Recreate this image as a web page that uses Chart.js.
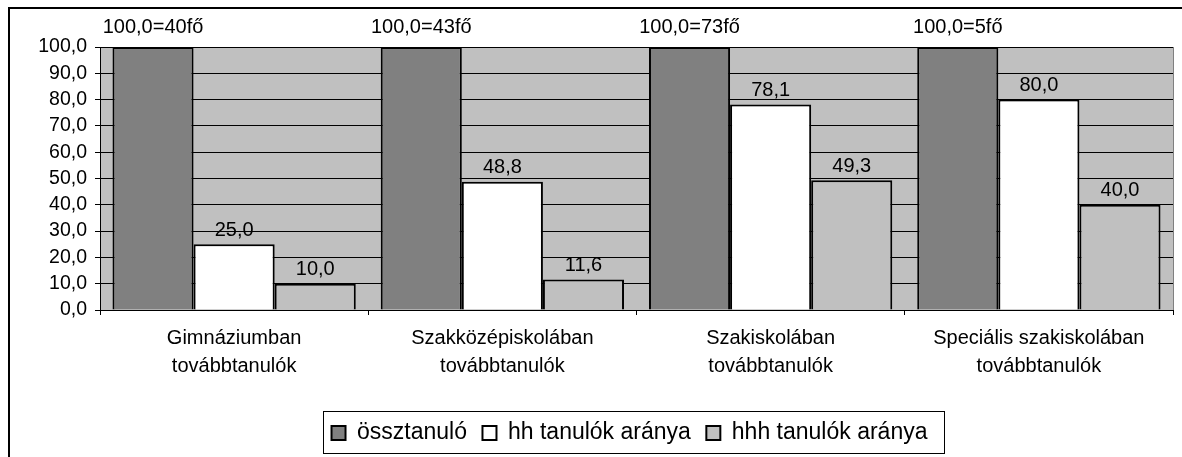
<!DOCTYPE html>
<html>
<head>
<meta charset="utf-8">
<script src="https://cdn.jsdelivr.net/npm/chart.js@4.4.1/dist/chart.umd.min.js"></script>
<style>
html,body{margin:0;padding:0;background:#fff;}
#wrap{width:1182px;height:457px;}
</style>
</head>
<body>
<div id="wrap"><canvas id="c" width="1182" height="457"></canvas></div>
<script>
const categories = [
  ["Gimnáziumban", "továbbtanulók"],
  ["Szakközépiskolában", "továbbtanulók"],
  ["Szakiskolában", "továbbtanulók"],
  ["Speciális szakiskolában", "továbbtanulók"]
];
const seriesNames = ["össztanuló", "hh tanulók aránya", "hhh tanulók aránya"];
const osszTanulo = [100.0, 100.0, 100.0, 100.0];
const hhArany = [25.0, 48.8, 78.1, 80.0];
const hhhArany = [10.0, 11.6, 49.3, 40.0];
const letszam = [40, 43, 73, 5];
const yTicks = [0, 10, 20, 30, 40, 50, 60, 70, 80, 90, 100];

const FONT = "'Liberation Sans', Arial, sans-serif";
const fmt = v => v.toFixed(1).replace('.', ',');
const LEGEND_SHIFT = -7;

const frame = {
  id: 'frame',
  afterLayout(chart) {
    const lg = chart.legend;
    if (lg) { lg.left += LEGEND_SHIFT; lg.right += LEGEND_SHIFT; }
  },
  beforeDraw(chart) {
    const ctx = chart.ctx, a = chart.chartArea;
    ctx.save();
    ctx.fillStyle = '#fff';
    ctx.fillRect(0, 0, chart.width, chart.height);
    ctx.strokeStyle = '#000';
    ctx.lineWidth = 2;
    ctx.strokeRect(9, 8, chart.width + 20, chart.height + 20);
    ctx.fillStyle = '#c0c0c0';
    ctx.fillRect(a.left, a.top, a.right - a.left, a.bottom - a.top);
    ctx.restore();
  },
  afterDraw(chart) {
    const ctx = chart.ctx, a = chart.chartArea;
    ctx.save();
    ctx.strokeStyle = '#808080';
    ctx.lineWidth = 1;
    ctx.beginPath();
    ctx.moveTo(a.right + 0.5, a.top);
    ctx.lineTo(a.right + 0.5, a.bottom);
    ctx.stroke();
    const lg = chart.legend;
    if (lg && lg.legendHitBoxes && lg.legendHitBoxes.length) {
      const hb = lg.legendHitBoxes;
      let l = Infinity, r = -Infinity, t = Infinity, b = -Infinity;
      hb.forEach(h => { l = Math.min(l, h.left); r = Math.max(r, h.left + h.width); t = Math.min(t, h.top); b = Math.max(b, h.top + h.height); });
      ctx.strokeStyle = '#000';
      ctx.lineWidth = 1;
      const L = Math.round(l - 9), T = Math.round(t - 10.5), R = Math.round(r + 17), B = Math.round(b + 8.5);
      ctx.strokeRect(L + 0.5, T + 0.5, R - L, B - T);
    }
    ctx.restore();
  },
  afterDatasetsDraw(chart) {
    const ctx = chart.ctx;
    ctx.save();
    ctx.font = '20px ' + FONT;
    ctx.fillStyle = '#000';
    ctx.textAlign = 'center';
    ctx.textBaseline = 'middle';
    chart.data.datasets.forEach((ds, di) => {
      const meta = chart.getDatasetMeta(di);
      meta.data.forEach((bar, i) => {
        const v = ds.data[i];
        const txt = di === 0 ? fmt(v) + '=' + letszam[i] + 'fő' : fmt(v);
        const off = di === 0 ? 20 : 14;
        ctx.fillText(txt, bar.x, bar.y - off);
      });
    });
    ctx.restore();
  }
};

const colors = ['#808080', '#ffffff', '#c0c0c0'];
const dataArrays = [osszTanulo, hhArany, hhhArany];

new Chart(document.getElementById('c'), {
  type: 'bar',
  data: {
    labels: categories,
    datasets: dataArrays.map((d, i) => ({
      label: seriesNames[i],
      data: d,
      backgroundColor: colors[i],
      borderColor: '#000',
      borderWidth: 2,
      barPercentage: 1,
      categoryPercentage: 0.907
    }))
  },
  options: {
    responsive: false,
    animation: false,
    events: [],
    layout: { padding: { left: 10, right: 9, top: 47, bottom: 2.5 } },
    plugins: {
      tooltip: { enabled: false },
      legend: {
        position: 'bottom',
        fullSize: false,
        labels: {
          font: { family: FONT, size: 23 },
          color: '#000',
          boxWidth: 14,
          boxHeight: 14,
          padding: 15.5,
          useBorderRadius: false
        }
      }
    },
    scales: {
      x: {
        grid: { offset: true, drawOnChartArea: false, tickLength: 5, color: '#000' },
        border: { display: true, color: '#000', width: 1 },
        ticks: { font: { family: FONT, size: 20, lineHeight: 1.4 }, color: '#000', maxRotation: 0, padding: 9, autoSkip: false },
        afterFit(s) { s.height = 96; }
      },
      y: {
        min: 0, max: 100,
        afterBuildTicks(s) { s.ticks = yTicks.map(v => ({ value: v })); },
        grid: { color: '#000', tickLength: 5, lineWidth: 1 },
        border: { display: true, color: '#000', width: 1 },
        ticks: { font: { family: FONT, size: 19.5 }, color: '#000', padding: 8, autoSkip: false, callback: v => fmt(v) },
        afterFit(s) { s.width = 90; }
      }
    }
  },
  plugins: [frame]
});
</script>
</body>
</html>
